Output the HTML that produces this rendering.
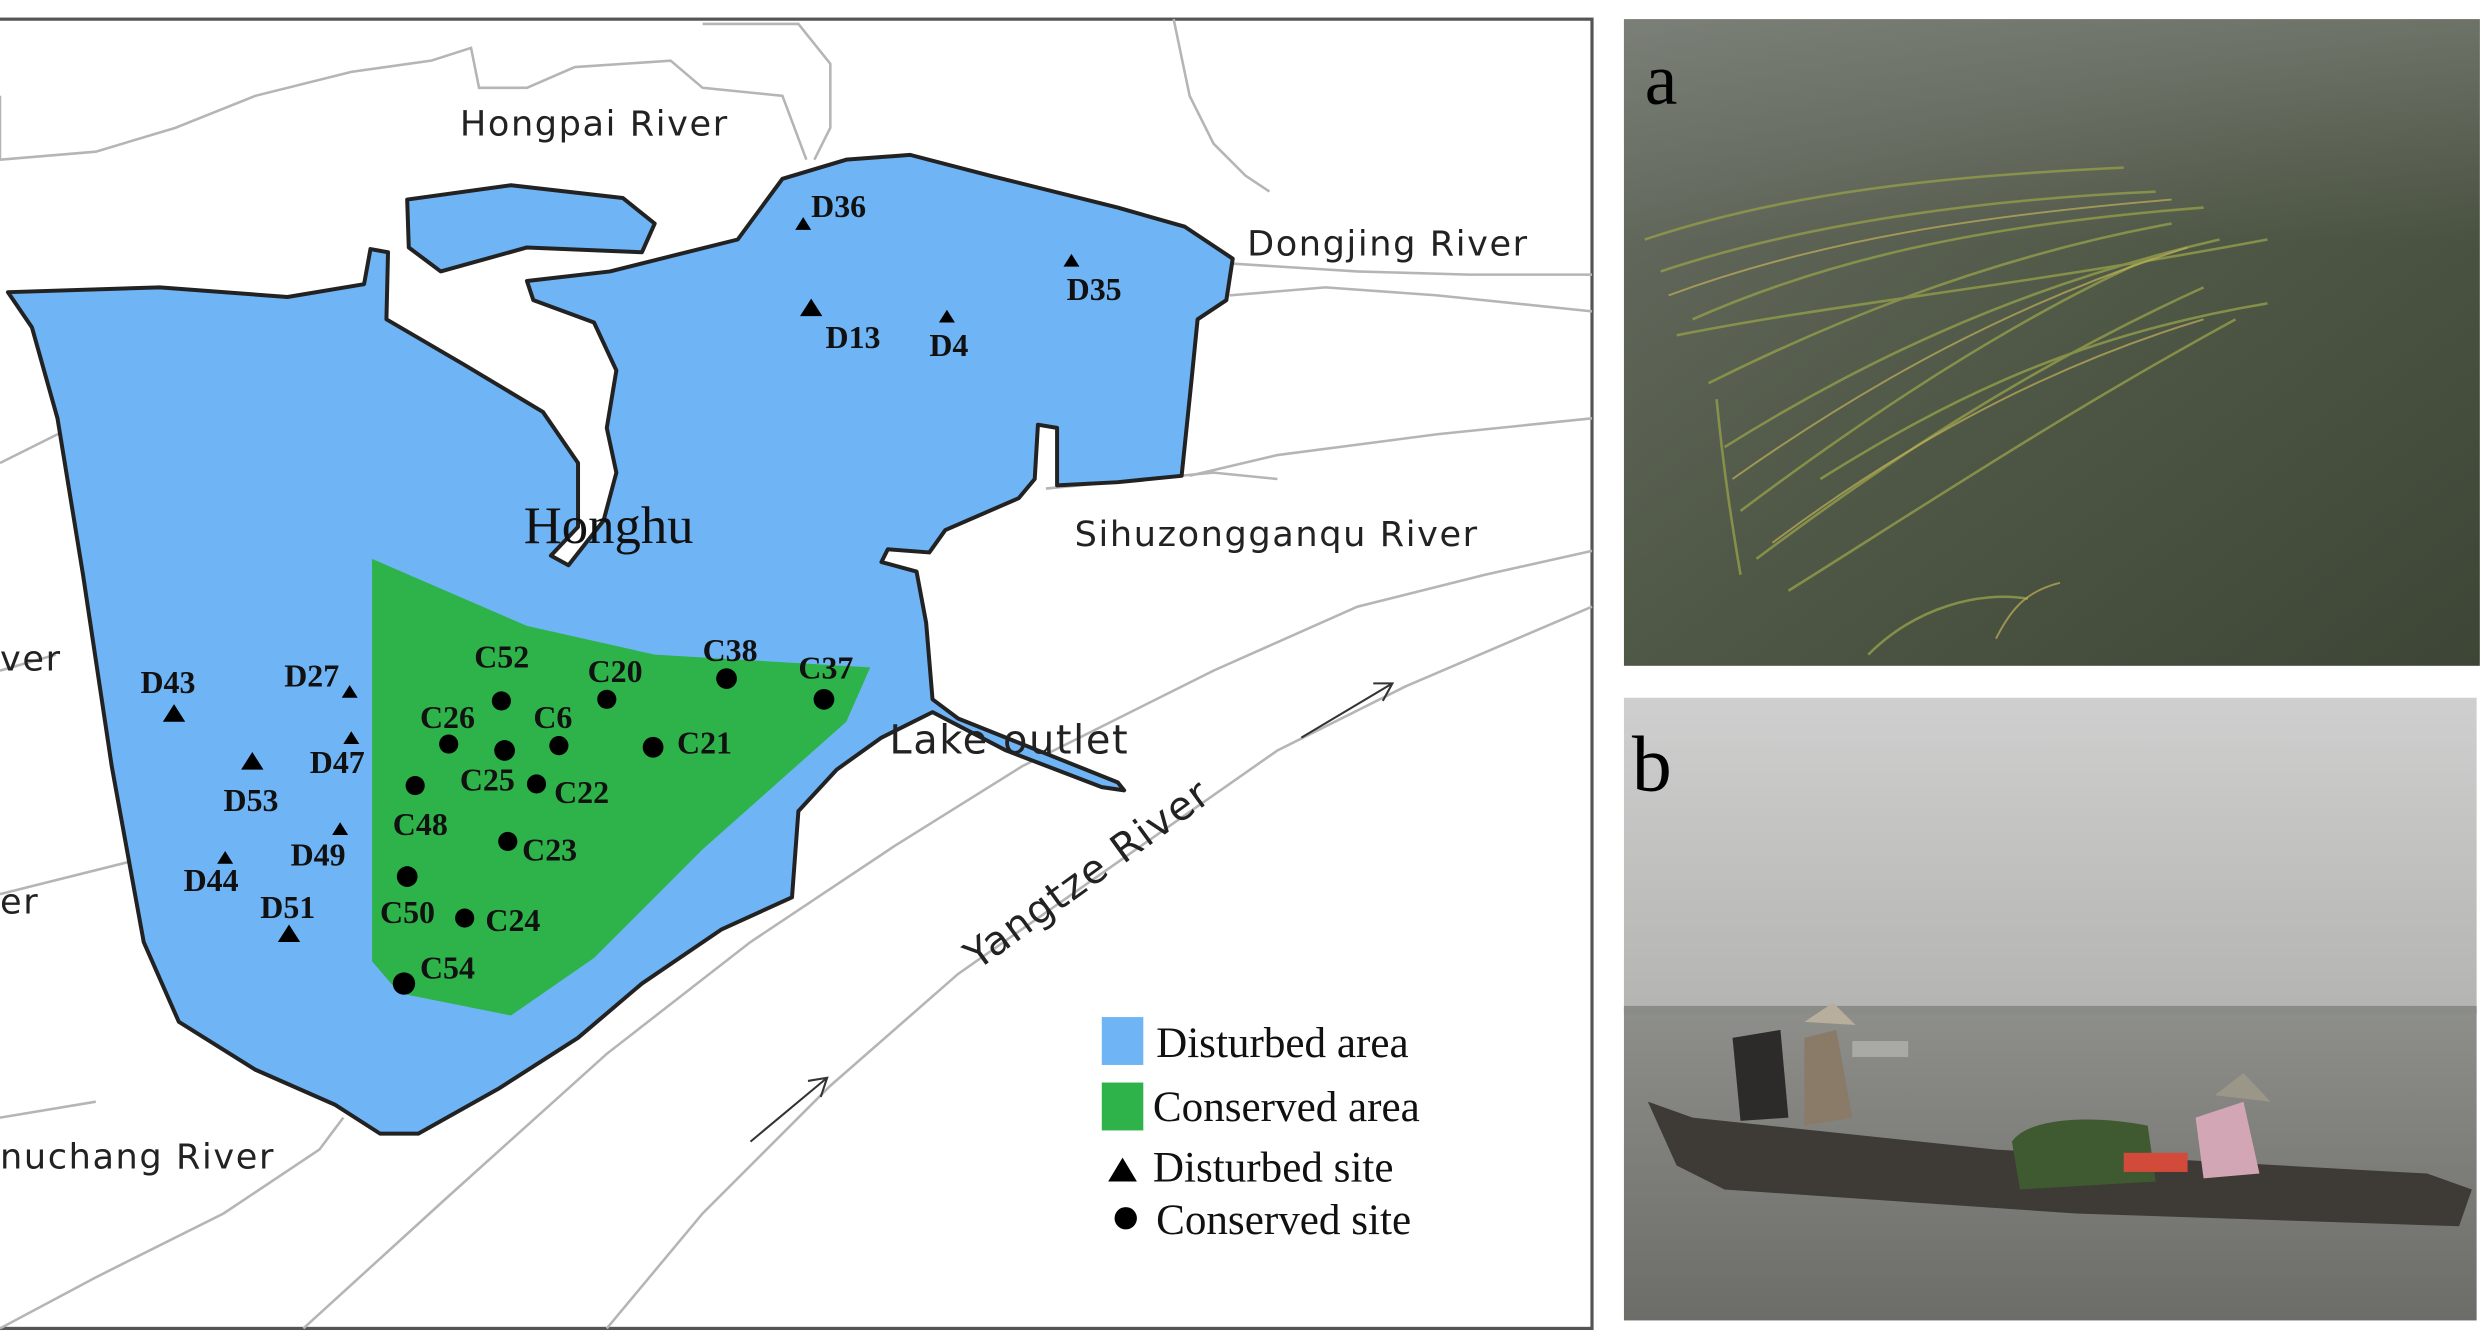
<!DOCTYPE html>
<html><head><meta charset="utf-8"><style>
html,body{margin:0;padding:0;background:#fff;}
svg{display:block;}
.rv{font-family:"DejaVu Sans","Liberation Sans",sans-serif;font-size:22px;fill:#222;letter-spacing:1px;}
.st{font-family:"Liberation Serif",serif;font-size:20px;font-weight:bold;fill:#111;}
.lg{font-family:"Liberation Serif",serif;font-size:27px;fill:#111;}
</style></head><body>
<svg width="2491" height="1338" viewBox="0 0 1560 838" preserveAspectRatio="none" xmlns="http://www.w3.org/2000/svg">
<defs>
<linearGradient id="pa" x1="0" y1="0" x2="1" y2="1"><stop offset="0" stop-color="#6a7066"/><stop offset="0.5" stop-color="#4f5746"/><stop offset="1" stop-color="#3d4536"/></linearGradient>
<linearGradient id="haze" x1="0" y1="0" x2="0" y2="1"><stop offset="0" stop-color="#8a8e88" stop-opacity="0.5"/><stop offset="1" stop-color="#8a8e88" stop-opacity="0"/></linearGradient>
<linearGradient id="sky" x1="0" y1="0" x2="0" y2="1"><stop offset="0" stop-color="#cfcfcf"/><stop offset="1" stop-color="#b4b4b2"/></linearGradient>
<linearGradient id="wat" x1="0" y1="0" x2="0" y2="1"><stop offset="0" stop-color="#8e8e8a"/><stop offset="1" stop-color="#6c6c68"/></linearGradient>
</defs>
<rect width="1560" height="838" fill="#fff"/>
<rect x="-2" y="12" width="999" height="820" fill="#fff" stroke="#555" stroke-width="2"/>
<g fill="none" stroke="#b5b5b5" stroke-width="1.6">
<path d="M0,100 L60,95 L110,80 L160,60 L220,45 L270,38 L295,30 L300,55 L330,55 L360,42 L420,38 L440,55 L490,60 L505,100"/>
<path d="M0,60 L0,100"/>
<path d="M440,15 L500,15 L520,40 L520,80 L510,100"/>
<path d="M735,12 L745,60 L760,90 L780,110 L795,120"/>
<path d="M770,165 L850,170 L920,172 L997,172"/>
<path d="M770,185 L830,180 L900,185 L997,195"/>
<path d="M745,298 L800,285 L900,272 L997,262"/>
<path d="M655,306 L760,296 L800,300"/>
<path d="M0,290 L40,270"/>
<path d="M0,420 L35,410"/>
<path d="M0,560 L80,540 L110,538"/>
<path d="M0,700 L60,690"/>
<path d="M0,832 L60,800 L140,760 L200,720 L215,700"/>
<path d="M190,832 L280,750 L380,660 L470,590 L560,530 L640,480 L700,450 L760,420 L850,380 L930,360 L997,345"/>
<path d="M380,832 L440,760 L520,680 L600,610 L700,540 L800,470 L880,430 L950,400 L997,380"/>
</g>
<g stroke="#333" stroke-width="1.3" fill="none">
<path d="M470,715 L518,675 M506,677 L518,675 L514,687"/>
<path d="M815,462 L872,428 M860,428 L872,428 L866,439"/>
</g>
<g fill="#6fb5f6" stroke="#222" stroke-width="2.5" stroke-linejoin="round">
<path d="M5,183 L100,180 L180,186 L228,178 L232,156 L243,158 L242,200 L290,228 L340,258 L362,290 L362,330 L345,348 L356,354 L378,326 L386,296 L380,268 L386,232 L372,202 L334,188 L330,176 L382,170 L422,160 L462,150 L490,112 L530,100 L570,97 L620,110 L700,130 L742,142 L772,162 L768,188 L750,200 L746,240 L740,298 L700,302 L662,304 L662,268 L650,266 L648,300 L638,312 L592,332 L582,346 L556,344 L552,352 L574,358 L580,390 L584,438 L600,450 L650,470 L700,490 L704,495 L690,493 L630,470 L584,446 L552,462 L524,482 L500,508 L496,562 L452,582 L402,616 L362,650 L312,682 L262,710 L238,710 L210,692 L160,670 L112,640 L90,590 L70,480 L52,360 L36,262 L20,205 Z"/>
<path d="M255,125 L320,116 L390,124 L410,140 L402,158 L330,155 L276,170 L256,155 Z"/>
</g>
<path d="M233,350 L330,392 L410,410 L545,418 L530,452 L440,532 L372,600 L320,636 L250,622 L233,602 Z" fill="#2eb34a"/>
<text class="rv" x="288" y="85">Hongpai River</text>
<text class="rv" x="781" y="160">Dongjing River</text>
<text class="rv" x="673" y="342">Sihuzongganqu River</text>
<text class="rv" x="557" y="472" style="font-size:25px">Lake outlet</text>
<text class="rv" x="0" y="420">ver</text>
<text class="rv" x="0" y="572">er</text>
<text class="rv" x="0" y="732">nuchang River</text>
<text class="rv" x="612" y="608" transform="rotate(-36 612 608)" style="font-size:25px">Yangtze River</text>
<text x="328" y="340" style="font-family:'Liberation Serif',serif;font-size:33px;fill:#111">Honghu</text>
<g fill="#000">
<path d="M498,144 l5,-8 l5,8z"/><path d="M666,167 l5,-8 l5,8z"/><path d="M501,198 l7,-11 l7,11z"/><path d="M588,202 l5,-8 l5,8z"/>
<path d="M102,452 l7,-11 l7,11z"/><path d="M214,437 l5,-8 l5,8z"/><path d="M151,482 l7,-11 l7,11z"/><path d="M215,466 l5,-8 l5,8z"/>
<path d="M208,523 l5,-8 l5,8z"/><path d="M136,541 l5,-8 l5,8z"/><path d="M174,590 l7,-11 l7,11z"/>
</g>
<g class="st">
<text x="508" y="136">D36</text><text x="668" y="188">D35</text><text x="517" y="218">D13</text><text x="582" y="223">D4</text>
<text x="88" y="434">D43</text><text x="178" y="430">D27</text><text x="194" y="484">D47</text><text x="140" y="508">D53</text>
<text x="182" y="542">D49</text><text x="115" y="558">D44</text><text x="163" y="575">D51</text>
</g>
<g fill="#000">
<circle cx="314" cy="439" r="6"/><circle cx="380" cy="438" r="6"/><circle cx="455" cy="425" r="6.5"/><circle cx="516" cy="438" r="6.5"/>
<circle cx="281" cy="466" r="6"/><circle cx="316" cy="470" r="6.5"/><circle cx="350" cy="467" r="6"/><circle cx="409" cy="468" r="6.5"/>
<circle cx="260" cy="492" r="6"/><circle cx="336" cy="491" r="6"/><circle cx="318" cy="527" r="6"/><circle cx="255" cy="549" r="6.5"/>
<circle cx="291" cy="575" r="6"/><circle cx="253" cy="616" r="7"/>
</g>
<g class="st">
<text x="297" y="418">C52</text><text x="368" y="427">C20</text><text x="440" y="414">C38</text><text x="500" y="425">C37</text>
<text x="263" y="456">C26</text><text x="334" y="456">C6</text><text x="424" y="472">C21</text><text x="288" y="495">C25</text>
<text x="347" y="503">C22</text><text x="246" y="523">C48</text><text x="327" y="539">C23</text><text x="238" y="578">C50</text>
<text x="304" y="583">C24</text><text x="263" y="613">C54</text>
</g>
<rect x="690" y="637" width="26" height="30" fill="#6fb5f6"/>
<rect x="690" y="678" width="26" height="30" fill="#2eb34a"/>
<path d="M694,740 l9,-15 l9,15z" fill="#000"/>
<circle cx="705" cy="763" r="7" fill="#000"/>
<g class="lg">
<text x="724" y="662">Disturbed area</text><text x="722" y="702">Conserved area</text>
<text x="722" y="740">Disturbed site</text><text x="724" y="773">Conserved site</text>
</g>
<rect x="1017" y="12" width="536" height="405" fill="url(#pa)"/>
<rect x="1017" y="12" width="536" height="140" fill="url(#haze)"/>
<g stroke="#8f9a4a" stroke-width="1.6" fill="none" opacity="0.85">
<path d="M1030,150 C1120,120 1220,110 1330,105"/><path d="M1040,170 C1130,140 1240,125 1350,120"/>
<path d="M1060,200 C1150,160 1250,140 1380,130"/><path d="M1070,240 C1150,200 1250,160 1360,140"/>
<path d="M1080,280 C1160,230 1260,180 1390,150"/><path d="M1090,320 C1170,260 1260,200 1350,160"/>
<path d="M1100,350 C1180,290 1270,230 1380,180"/><path d="M1120,370 C1200,320 1290,260 1400,200"/>
<path d="M1075,250 C1080,300 1085,330 1090,360"/><path d="M1170,410 C1200,380 1240,370 1270,375"/>
<path d="M1050,210 C1150,190 1260,180 1420,150"/><path d="M1140,300 C1220,250 1300,210 1420,190"/>
</g>
<g stroke="#c2b15a" stroke-width="1.2" fill="none" opacity="0.7">
<path d="M1045,185 C1140,150 1240,135 1360,125"/><path d="M1085,300 C1170,240 1260,190 1370,155"/>
<path d="M1110,340 C1190,280 1280,230 1380,200"/><path d="M1250,400 C1260,380 1270,370 1290,365"/>
</g>
<text x="1030" y="65" style="font-family:'Liberation Serif',serif;font-size:46px;fill:#000">a</text>
<rect x="1017" y="437" width="534" height="196" fill="url(#sky)"/>
<rect x="1017" y="632" width="534" height="195" fill="url(#wat)"/>
<rect x="1017" y="630" width="534" height="5" fill="#8a8c88"/>
<path d="M1032,690 L1050,730 L1080,745 L1300,760 L1540,768 L1548,745 L1520,735 L1250,720 L1060,700 Z" fill="#3e3a36"/>
<path d="M1085,650 L1115,645 L1120,700 L1090,702 Z" fill="#2d2b2a"/>
<path d="M1130,650 L1150,645 L1160,700 L1130,705 Z" fill="#8a7a68"/>
<path d="M1130,640 L1148,628 L1162,642 Z" fill="#b8ae9c"/>
<path d="M1260,715 C1270,700 1310,698 1345,705 L1350,740 L1265,745 Z" fill="#3f5a30"/>
<rect x="1330" y="722" width="40" height="12" fill="#d14a3a"/>
<path d="M1375,700 L1405,690 L1415,735 L1380,738 Z" fill="#d3a6b6"/>
<path d="M1387,686 L1405,672 L1422,690 Z" fill="#9a9688"/>
<rect x="1160" y="652" width="35" height="10" fill="#a9a9a5"/>
<text x="1022" y="495" style="font-family:'Liberation Serif',serif;font-size:50px;fill:#000">b</text>
</svg>
</body></html>
